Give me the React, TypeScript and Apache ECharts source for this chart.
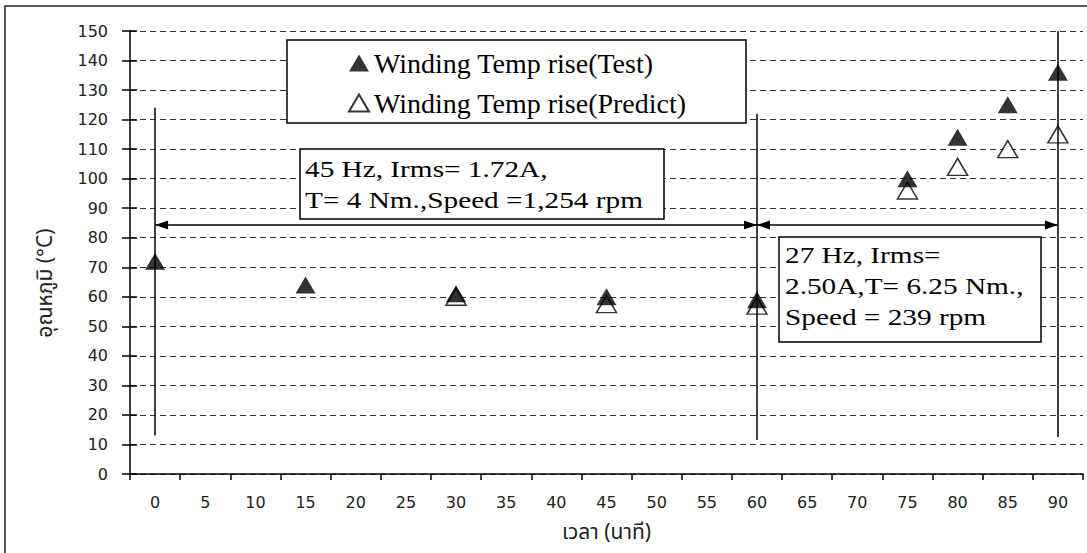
import React, { useEffect, useRef } from "react";
import * as echarts from "echarts";

const minutes = ["0","5","10","15","20","25","30","35","40","45","50","55","60","65","70","75","80","85","90"];
const testMinutes = ["0","15","30","45","60","75","80","85","90"];
const testValues = [72, 64, 61, 60, 59, 100, 114, 125, 136];
const predictMinutes = ["30","45","60","75","80","85","90"];
const predictValues = [60, 57.5, 57, 96, 104, 110, 115];
const yTicks = { min: 0, max: 150, interval: 10 };
const testName = "Winding Temp rise(Test)";
const predictName = "Winding Temp rise(Predict)";
const xTitle = "เวลา (นาที)";
const yTitle = "อุณหภูมิ (°C)";
// vertical marker lines: minute, from value, to value
const markerLines = [
  { minute: "0", from: 13, to: 124 },
  { minute: "60", from: 11.5, to: 122 },
  { minute: "90", from: 12.5, to: 150 },
];
const arrowLevel = 84.3;
const arrowSpans = [["0", "60"], ["60", "90"]];
const note1 = ["45 Hz, Irms= 1.72A,", "T= 4 Nm.,Speed =1,254 rpm"];
const note2 = ["27 Hz, Irms=", "2.50A,T= 6.25 Nm.,", "Speed = 239 rpm"];

const serif = "'Liberation Serif', 'Times New Roman', serif";
const sans = "'DejaVu Sans', Tahoma, Verdana, sans-serif";
const thai = "Tahoma, 'Noto Sans Thai', 'Noto Sans', 'DejaVu Sans', sans-serif";

export default function App() {
  const ref = useRef<HTMLDivElement>(null);
  useEffect(() => {
    if (!ref.current) return;
    const chart = echarts.init(ref.current, null, { renderer: "svg" });
    const markData: any[] = [];
    markerLines.forEach((m) => {
      markData.push([
        { coord: [m.minute, m.from], symbol: "none" },
        { coord: [m.minute, m.to], symbol: "none" },
      ]);
    });
    arrowSpans.forEach((s) => {
      markData.push([
        { coord: [s[0], arrowLevel] },
        { coord: [s[1], arrowLevel] },
      ]);
    });
    chart.setOption({
      animation: false,
      backgroundColor: "#fff",
      grid: { left: 130, right: 4, top: 31, bottom: 79, containLabel: false },
      legend: {
        data: [testName, predictName],
        orient: "vertical",
        left: 343,
        top: 44,
        itemWidth: 20,
        itemHeight: 17,
        itemGap: 12,
        z: 20,
        textStyle: { fontFamily: serif, fontSize: 28, color: "#000" },
      },
      xAxis: {
        type: "category",
        data: minutes,
        boundaryGap: true,
        name: xTitle,
        nameLocation: "middle",
        nameGap: 48,
        nameTextStyle: { fontFamily: thai, fontSize: 21, color: "#222" },
        axisLine: { lineStyle: { color: "#000", width: 1.5 } },
        axisTick: { show: true, length: 6, interval: 0, lineStyle: { color: "#000", width: 1.5 } },
        axisLabel: { interval: 0, margin: 20, fontFamily: sans, fontSize: 16, color: "#222" },
        splitLine: { show: false },
      },
      yAxis: [
        {
          type: "value",
          min: yTicks.min,
          max: yTicks.max,
          interval: yTicks.interval,
          position: "left",
          axisLine: { show: true, lineStyle: { color: "#000", width: 1.5 } },
          axisTick: { show: true, length: 8, lineStyle: { color: "#000", width: 1.5 } },
          axisLabel: { margin: 22, fontFamily: sans, fontSize: 16, color: "#222" },
          splitLine: { show: true, lineStyle: { color: "#333", width: 1, type: [6, 4] } },
        },
        {
          type: "value",
          min: yTicks.min,
          max: yTicks.max,
          interval: yTicks.interval,
          position: "left",
          offset: 0,
          axisLine: { show: false },
          axisTick: { show: true, inside: true, length: 7, lineStyle: { color: "#000", width: 1.5 } },
          axisLabel: { show: false },
          splitLine: { show: false },
        },
      ],
      series: [
        {
          name: predictName,
          type: "scatter",
          symbol: "triangle",
          symbolSize: [20, 17],
          itemStyle: { color: "#fff", borderColor: "#000", borderWidth: 1.5 },
          data: predictMinutes.map((m, i) => [m, predictValues[i]]),
          z: 3,
        },
        {
          name: testName,
          type: "scatter",
          symbol: "triangle",
          symbolSize: [20, 17],
          itemStyle: { color: "#000" },
          data: testMinutes.map((m, i) => [m, testValues[i]]),
          z: 4,
          markLine: {
            silent: true,
            symbol: ["triangle", "triangle"],
            symbolSize: [9, 13],
            symbolOffset: [[0, 6.5], [0, 6.5]],
            label: { show: false },
            lineStyle: { color: "#000", width: 1.5, type: "solid" },
            data: markData,
          },
        },
      ],
      graphic: [
        {
          type: "rect",
          z: 0,
          silent: true,
          shape: { x: 5, y: 6, width: 1200, height: 700 },
          style: { fill: "none", stroke: "#222", lineWidth: 1.5 },
        },
        {
          type: "rect",
          z: 10,
          shape: { x: 287, y: 40, width: 459, height: 83 },
          style: { fill: "#fff", stroke: "#000", lineWidth: 1.5 },
        },
        {
          type: "rect",
          z: 10,
          shape: { x: 300, y: 149, width: 364, height: 70 },
          style: { fill: "#fff", stroke: "#000", lineWidth: 1.5 },
        },
        {
          type: "text",
          z: 11,
          x: 305,
          y: 153.5,
          scaleX: 1.22,
          style: { text: note1.join("\n"), fontFamily: serif, fontSize: 24, lineHeight: 31, fill: "#000", verticalAlign: "top" },
        },
        {
          type: "rect",
          z: 10,
          shape: { x: 779, y: 237, width: 262, height: 105 },
          style: { fill: "#fff", stroke: "#000", lineWidth: 1.5 },
        },
        {
          type: "text",
          z: 11,
          x: 785,
          y: 239.5,
          scaleX: 1.22,
          style: { text: note2.join("\n"), fontFamily: serif, fontSize: 24, lineHeight: 31, fill: "#000", verticalAlign: "top" },
        },
        {
          type: "text",
          z: 11,
          x: 45,
          y: 283,
          rotation: Math.PI / 2,
          style: { text: yTitle, fontFamily: thai, fontSize: 21, fill: "#222", align: "center", verticalAlign: "middle" },
        },
      ],
    });
    return () => chart.dispose();
  }, []);
  return (
    <div
      ref={ref}
      style={{ position: "fixed", left: 0, top: 0, width: 1087, height: 553, background: "#fff" }}
    />
  );
}
